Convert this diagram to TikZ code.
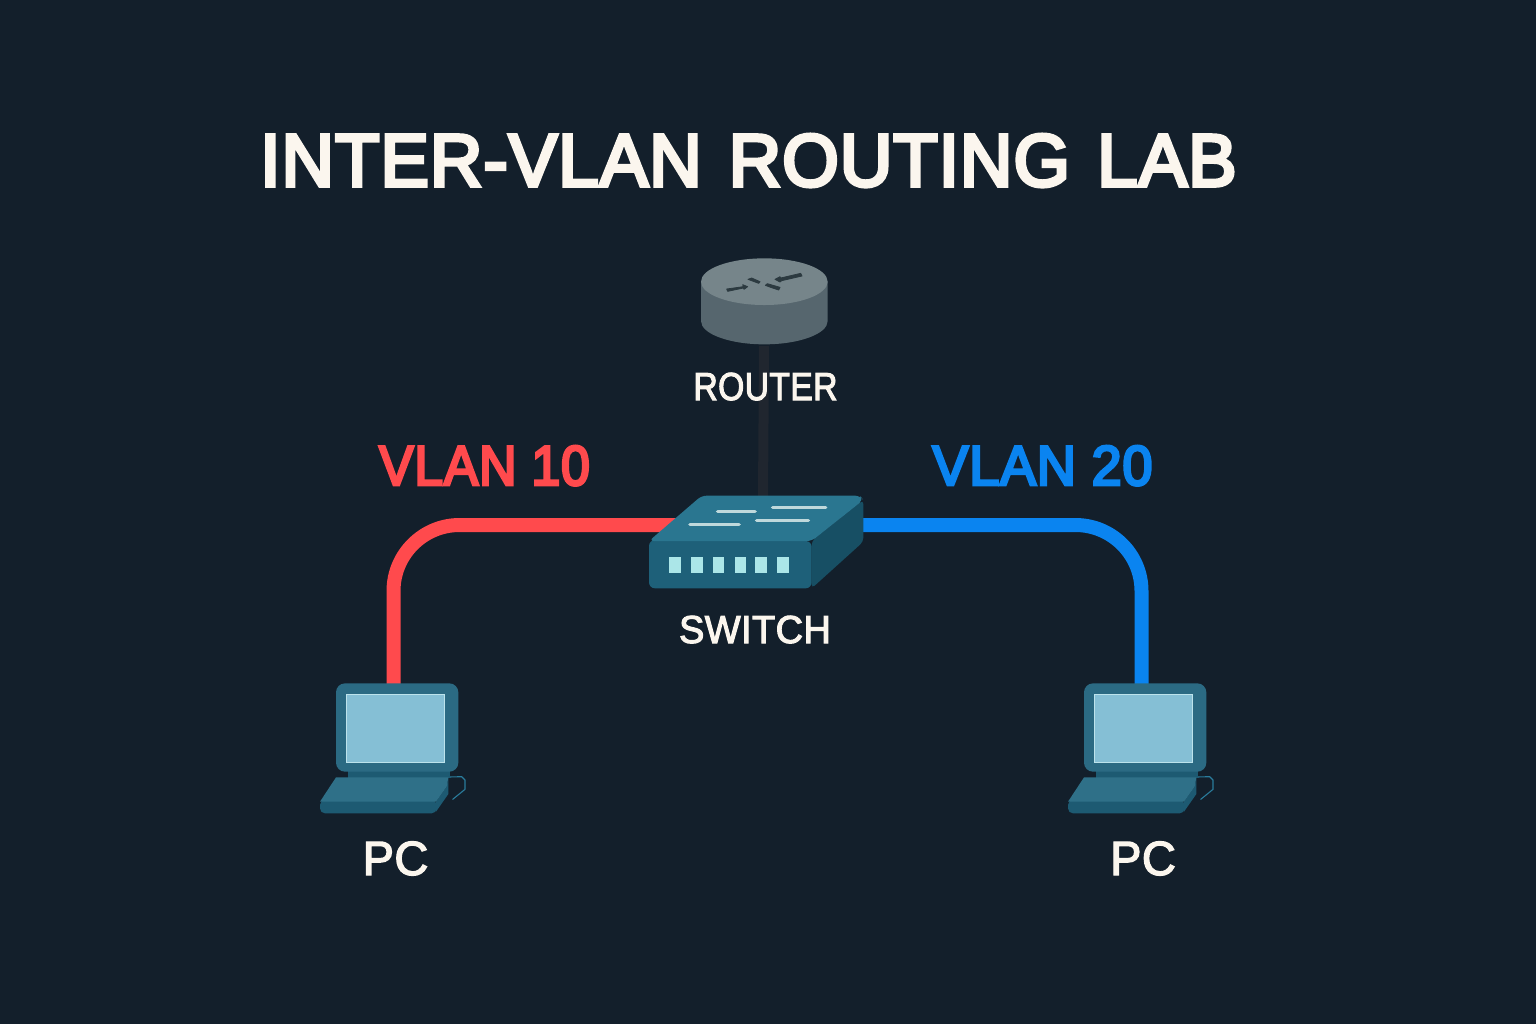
\documentclass[tikz,border=0pt]{standalone}
\usepackage{fontspec}
\setmainfont{Liberation Sans}
\newfontfamily\medfont[FakeBold=2.8,LetterSpace=1]{Liberation Sans}
\newfontfamily\semifont[FakeBold=5,LetterSpace=1.5]{Liberation Sans}
\usetikzlibrary{calc}
\definecolor{bgc}{HTML}{131F2B}
\definecolor{inkc}{HTML}{FBF6EE}
\definecolor{redc}{HTML}{FF4A4D}
\definecolor{bluec}{HTML}{0A84F0}
\definecolor{uplink}{HTML}{20262F}
\definecolor{rtop}{HTML}{76858A}
\definecolor{rside}{HTML}{56666E}
\definecolor{rmark}{HTML}{2C3A40}
\definecolor{swtop}{HTML}{2A7690}
\definecolor{swfront}{HTML}{1E6079}
\definecolor{swside}{HTML}{174F64}
\definecolor{swbar}{HTML}{BFD9DC}
\definecolor{swled}{HTML}{ABE6E8}
\definecolor{pcbody}{HTML}{2B6A83}
\definecolor{pcscreen}{HTML}{85BFD5}
\definecolor{pcedge}{HTML}{BCE3EC}
\definecolor{pcneck}{HTML}{1D5A72}
\definecolor{pckey}{HTML}{2F7088}
\definecolor{pccable}{HTML}{2A7C9C}
\tikzset{
  titletext/.style={text=inkc,inner sep=0pt,font=\semifont\fontsize{37}{37}\selectfont},
  devlabel/.style={text=inkc,inner sep=0pt,font=\medfont\fontsize{19.5}{20}\selectfont},
  pclabel/.style={text=inkc,inner sep=0pt,font=\medfont\fontsize{24}{24}\selectfont},
  vlanlabel/.style={inner sep=0pt,font=\semifont\fontsize{28}{28}\selectfont},
  cable/.style={line width=7pt,rounded corners=33pt},
  uplinkline/.style={line width=5pt,draw=uplink},
  zoomed/.style={x=0.16667pt,y=-0.16667pt},
  pics/pcicon/.style={code={
    \begin{scope}[zoomed]
      \draw[pccable,line width=0.55pt,line join=round,line cap=round] (415,321) -- (455,320) -- (465,330) -- (465,358) -- (428,388);
      \fill[pcneck] (113,300) rectangle (420,325);
      \fill[pcneck] (415,322) -- (410,350) -- (378,395) -- (378,425) -- (415,372) -- cycle;
      \fill[pcneck,rounded corners=2.5pt] (30,390) -- (380,390) -- (380,430) -- (30,430) -- cycle;
      \fill[pckey] (78,322) -- (415,322) -- (410,350) -- (378,395) -- (30,395) -- cycle;
      \fill[pcbody,rounded corners=4.5pt] (78,40) rectangle (445,305);
      \filldraw[fill=pcscreen,draw=pcedge,line width=0.4pt] (108,74) rectangle (404,278);
    \end{scope}
  }},
}
\begin{document}
\begin{tikzpicture}[x=0.5pt,y=-0.5pt]
\useasboundingbox (0,0) rectangle (1536,1024);
\fill[bgc] (0,0) rectangle (1536,1024);

% anchors
\node[inner sep=0pt,minimum width=127pt*0.5,minimum height=87pt*0.5] (router) at (764,302) {};
\coordinate (swTop) at (763,498);
\coordinate (swL) at (680,525);
\coordinate (swR) at (855,525);
\coordinate (pcAport) at (393.5,686);
\coordinate (pcBport) at (1141.5,686);

% connectors
\draw[uplinkline] (router.south) -- (swTop);
\draw[cable,redc] (swL) -| (pcAport);
\draw[cable,bluec] (swR) -| (pcBport);

% router
\begin{scope}[shift={(680,240)},zoomed]
  \fill[rside] (63,125) -- (63,243) arc[start angle=180,end angle=360,x radius=190,y radius=-70] -- (443,125) -- cycle;
  \fill[rtop] (253,125) ellipse[x radius=190,y radius=70];
  \filldraw[rmark,line width=0.4pt,line join=round] (140,147) -- (190,140) -- (188,134) -- (203,140) -- (192,148) -- (190,144) -- (143,154) -- cycle;
  \filldraw[rmark,line width=0.4pt,line join=round] (204,118) -- (215,114) -- (240,125) -- (236,130) -- cycle;
  \filldraw[rmark,line width=0.4pt,line join=round] (256,136) -- (262,131) -- (300,142) -- (296,150) -- (272,142) -- cycle;
  \filldraw[rmark,line width=0.4pt,line join=round] (285,118) -- (300,110) -- (302,114) -- (362,100) -- (366,108) -- (305,122) -- (300,126) -- cycle;
\end{scope}

% switch
\node[inner sep=0pt,minimum width=107pt,minimum height=46pt] (switch) at (756,542) {};
\begin{scope}[shift={(630,480)},zoomed]
  \fill[swfront,rounded corners=3pt] (57,180) -- (545,183) -- (545,325) -- (57,325) -- cycle;
  \fill[swside,rounded corners=2pt] (545,183) -- (700,60) -- (700,185) -- (545,325) -- cycle;
  \fill[swtop,rounded corners=2.5pt] (57,183) -- (215,47) -- (690,47) -- (700,60) -- (545,183) -- cycle;
  \foreach \a/\b/\c in {258/380/95,423/592/82,175/332/134,375/540/122}
    \draw[swbar,line width=1.8pt,line cap=round] (\a+5,\c) -- (\b-5,\c);
  \foreach \a/\b in {118/153,183/218,248/283,314/348,375/410,441/476}
    \fill[swled] (\a,232) rectangle (\b,278);
\end{scope}

% PCs
\node[inner sep=0pt,minimum width=62pt,minimum height=65pt] (pcA) at (396,749) {};
\node[inner sep=0pt,minimum width=62pt,minimum height=65pt] (pcB) at (1144,749) {};
\pic at (310,670) {pcicon};
\pic at (1058,670) {pcicon};

% labels
\node[titletext,anchor=base] (title) at (748.5,186) {\scalebox{0.981}[1]{INTER-VLAN\hspace{3pt} ROUTING\hspace{3pt} LAB}};
\node[devlabel,anchor=base] (routerlab) at (765.5,400) {\scalebox{0.865}[1]{ROUTER}};
\node[devlabel,anchor=base] (switchlab) at (755,643) {\scalebox{0.975}[1]{SWITCH}};
\node[pclabel,anchor=base] (pcAlab) at (395.5,875) {\scalebox{0.98}[1]{PC}};
\node[pclabel,anchor=base] (pcBlab) at (1143,875) {\scalebox{0.98}[1]{PC}};
\node[vlanlabel,anchor=base,text=redc] (vlanA) at (484.5,485) {\scalebox{0.923}[1]{VLAN 10}};
\node[vlanlabel,anchor=base,text=bluec] (vlanB) at (1042.5,485) {\scalebox{0.964}[1]{VLAN 20}};
\end{tikzpicture}
\end{document}
